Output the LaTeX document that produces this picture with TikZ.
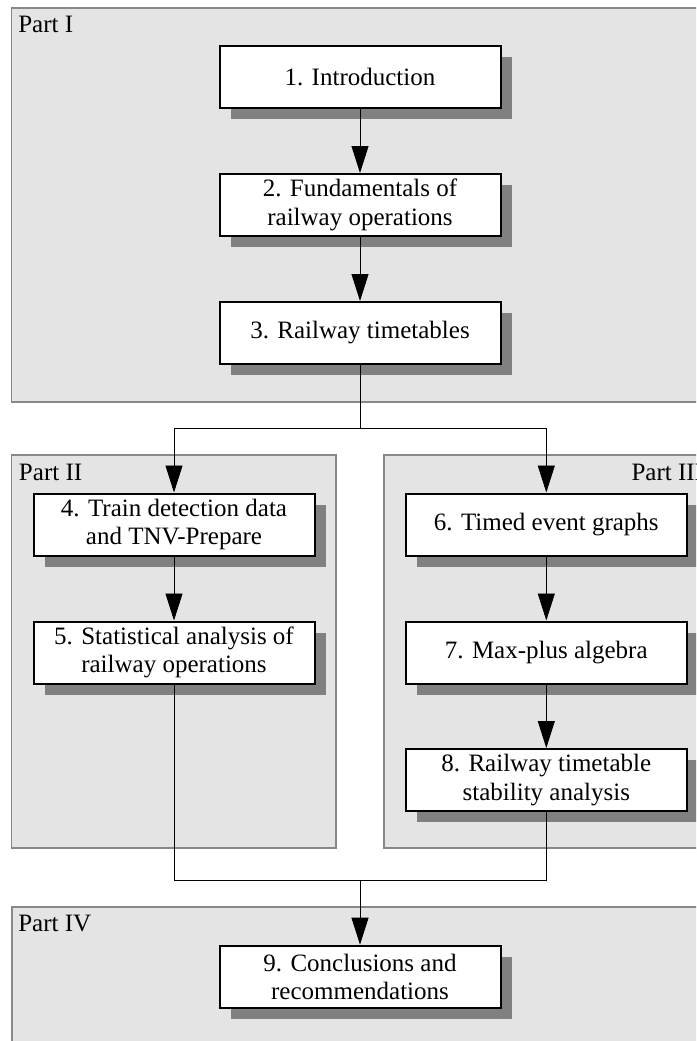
\documentclass[tikz,border=0pt]{standalone}
\usepackage{fontspec}
\setmainfont{Liberation Serif}
\usetikzlibrary{arrows.meta,shadows}
\definecolor{panelfill}{RGB}{228,228,228}
\definecolor{panelline}{RGB}{136,136,136}
\definecolor{shade}{RGB}{128,128,128}
\begin{document}
\begin{tikzpicture}[x=1pt,y=-1pt,
  font=\fontsize{25}{28.5}\selectfont,
  panel/.style={fill=panelfill,draw=panelline,line width=1.5pt},
  partlabel/.style={anchor=base west,inner sep=0pt,outer sep=0pt},
  chapter/.style={draw=black,line width=2pt,fill=white,
    minimum width=281pt,minimum height=62pt,align=center,inner sep=2pt,
    general shadow={fill=shade,shadow xshift=11pt,shadow yshift=-11pt}},
  conn/.style={draw=black,line width=0.9pt},
  arrow/.style={conn,-{Triangle[length=27pt,width=17pt]}}]

% page frame
\useasboundingbox (0,0) rectangle (696,1041);
\clip (0,0) rectangle (696,1041);
\fill[white] (0,0) rectangle (696,1041);

% part panels
\path[panel] (11.5,8) rectangle (720,402);
\path[panel] (11.5,455) rectangle (336,848);
\path[panel] (384,455) rectangle (720,848);
\path[panel] (12,907) rectangle (720,1070);

\node[partlabel] (p1) at (18.3,32.3) {Part I};
\node[partlabel] (p2) at (19,480) {Part II};
\node[partlabel] (p3) at (631.5,480) {Part III};
\node[partlabel] (p4) at (18.3,931) {Part IV};

% chapters
\node[chapter] (b1) at (360,77) {1. Introduction};
\node[chapter] (b2) at (360,205) {2. Fundamentals of\\railway operations};
\node[chapter] (b3) at (360,333) {3. Railway timetables};
\node[chapter] (b4) at (174,524.5) {4. Train detection data\\and TNV-Prepare};
\node[chapter] (b5) at (174,652.5) {5. Statistical analysis of\\railway operations};
\node[chapter] (b6) at (546.3,524.5) {6. Timed event graphs};
\node[chapter] (b7) at (546.3,652.5) {7. Max-plus algebra};
\node[chapter] (b8) at (546.3,780) {8. Railway timetable\\stability analysis};
\node[chapter] (b9) at (360,976.7) {9. Conclusions and\\recommendations};

% connectors
\coordinate (split) at (360,428.7);
\coordinate (merge) at (360,880.7);

\draw[arrow] (b1) -- (b2);
\draw[arrow] (b2) -- (b3);
\draw[arrow] (b3.south) -- (split) -| (b4.north);
\draw[arrow] (split) -| (b6.north);
\draw[arrow] (b4) -- (b5);
\draw[arrow] (b6) -- (b7);
\draw[arrow] (b7) -- (b8);
\draw[conn] (b5.south) |- (merge);
\draw[conn] (b8.south) |- (merge);
\draw[arrow] (merge) -- (b9.north);
\end{tikzpicture}
\end{document}
